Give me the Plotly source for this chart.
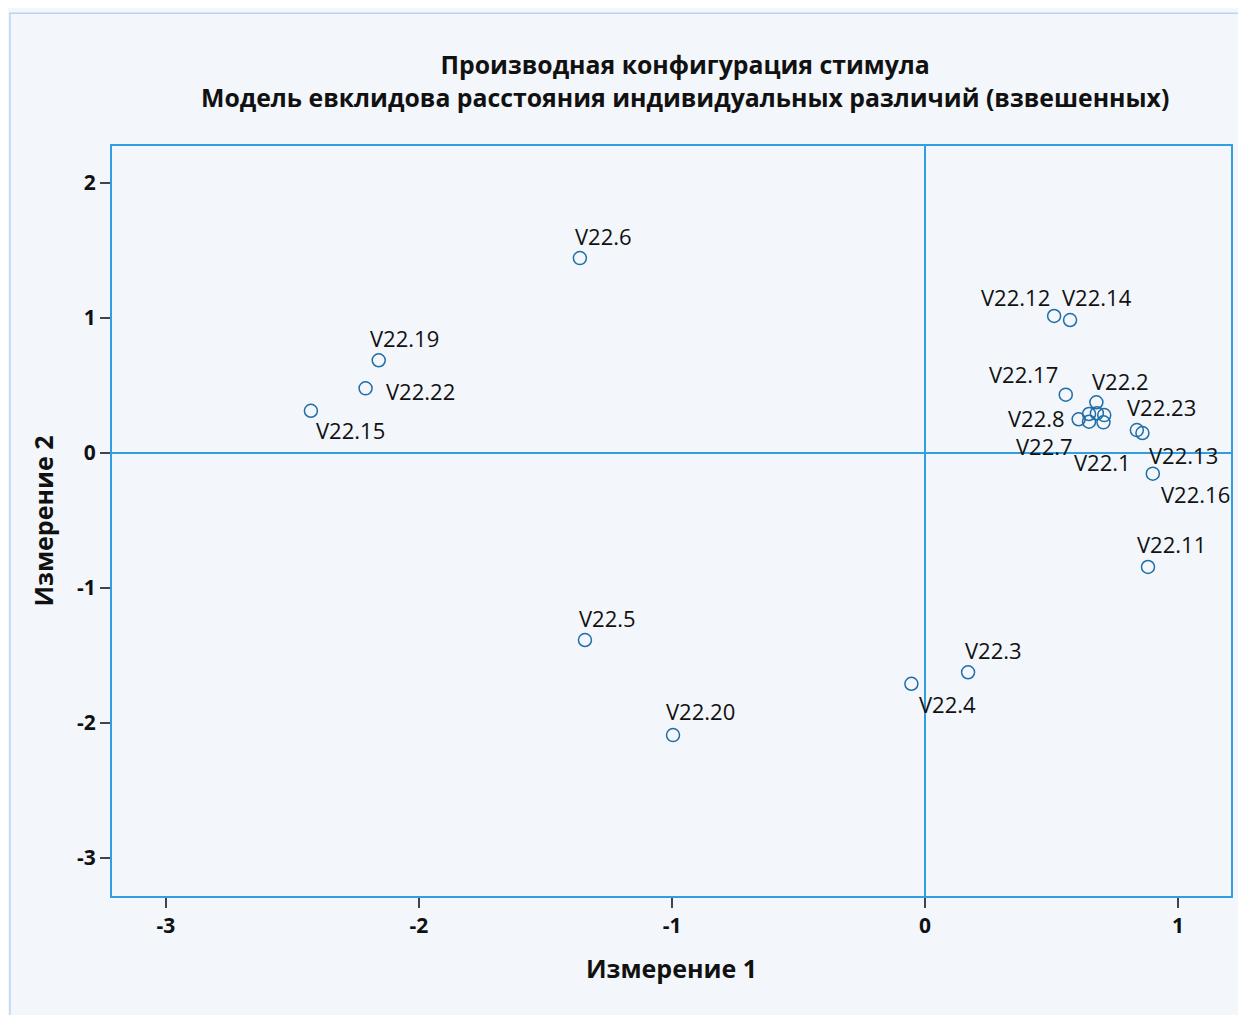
import plotly.graph_objects as go

# stimulus coordinates
names = ["V22.6", "V22.12", "V22.14", "V22.19", "V22.22", "V22.15",
         "V22.17", "V22.2", "V22.8", "V22.7", "V22.1", "", "", "",
         "V22.23", "V22.13", "V22.16", "V22.11", "V22.5", "V22.20",
         "V22.3", "V22.4"]
dim1 = [-1.364, 0.510, 0.573, -2.159, -2.211, -2.427,
        0.556, 0.677, 0.607, 0.648, 0.705, 0.648, 0.679, 0.708,
        0.837, 0.859, 0.900, 0.881, -1.344, -0.996,
        0.170, -0.054]
dim2 = [1.444, 1.015, 0.985, 0.687, 0.479, 0.313,
        0.432, 0.376, 0.250, 0.232, 0.227, 0.289, 0.294, 0.281,
        0.170, 0.148, -0.153, -0.844, -1.385, -2.089,
        -1.624, -1.709]

x_ticks = [-3, -2, -1, 0, 1]
y_ticks = [-3, -2, -1, 0, 1, 2]

# label offsets in pixels (dx, dy screen)
label_offsets = [(24, -22), (-39, -19), (27, -23), (26, -22), (55, 3), (40, 19),
                 (-42, -21), (24, -21), (-42, -1), (-45, 24), (-1, 40), (0, 0), (0, 0), (0, 0),
                 (25, -23), (41, 22), (43, 20), (23, -23), (23, -22), (27, -24),
                 (25, -22), (36, 20)]

BG = "#f3f6fb"
BLUE = "#2f9fe2"
MARK = "#1f6ea6"
FONT = "Open Sans"

fig = go.Figure()
fig.add_trace(go.Scatter(
    x=dim1, y=dim2, mode="markers",
    marker=dict(symbol="circle-open", size=13, color=MARK, line=dict(width=1.5, color=MARK)),
    hovertext=names, showlegend=False))

for n, x, y, (dx, dy) in zip(names, dim1, dim2, label_offsets):
    if not n:
        continue
    fig.add_annotation(x=x, y=y, text=n, showarrow=False, xshift=dx, yshift=-dy,
                       xanchor="center", yanchor="middle",
                       font=dict(family=FONT, size=22, color="#111111"))

# outer frame
fig.add_shape(type="rect", xref="paper", yref="paper",
              x0=-0.0912, x1=1.03, y0=-0.2, y1=1.177,
              line=dict(color="#b9d4ee", width=1.5), fillcolor="rgba(0,0,0,0)", layer="below")

axis_common = dict(
    showgrid=False, zeroline=True, zerolinecolor=BLUE, zerolinewidth=1.5,
    showline=True, mirror=True, linecolor=BLUE, linewidth=2,
    ticks="outside", ticklen=10, tickcolor="#444444", tickwidth=1.5,
    tickfont=dict(family=FONT, size=21, color="#111111", weight="bold"),
)
title_font = dict(family=FONT, size=25, color="#111111", weight="bold")

fig.update_layout(
    width=1238, height=1007,
    paper_bgcolor=BG, plot_bgcolor=BG,
    margin=dict(l=104, r=15, t=138, b=119),
    title=dict(
        text="Производная конфигурация стимула<br>Модель евклидова расстояния индивидуальных различий (взвешенных)",
        x=0.547, xanchor="center", y=0.934, yanchor="middle", yref="container",
        font=dict(family=FONT, size=24.8, color="#111111", weight="bold")),
    xaxis=dict(axis_common, range=[-3.213, 1.209], tickvals=x_ticks,
               ticktext=[str(v) for v in x_ticks],
               title=dict(text="Измерение 1", standoff=22, font=title_font)),
    yaxis=dict(axis_common, range=[-3.281, 2.274], tickvals=y_ticks,
               ticktext=[str(v) for v in y_ticks],
               title=dict(text="Измерение 2", standoff=16, font=title_font)),
)

fig.write_html("out.html")
